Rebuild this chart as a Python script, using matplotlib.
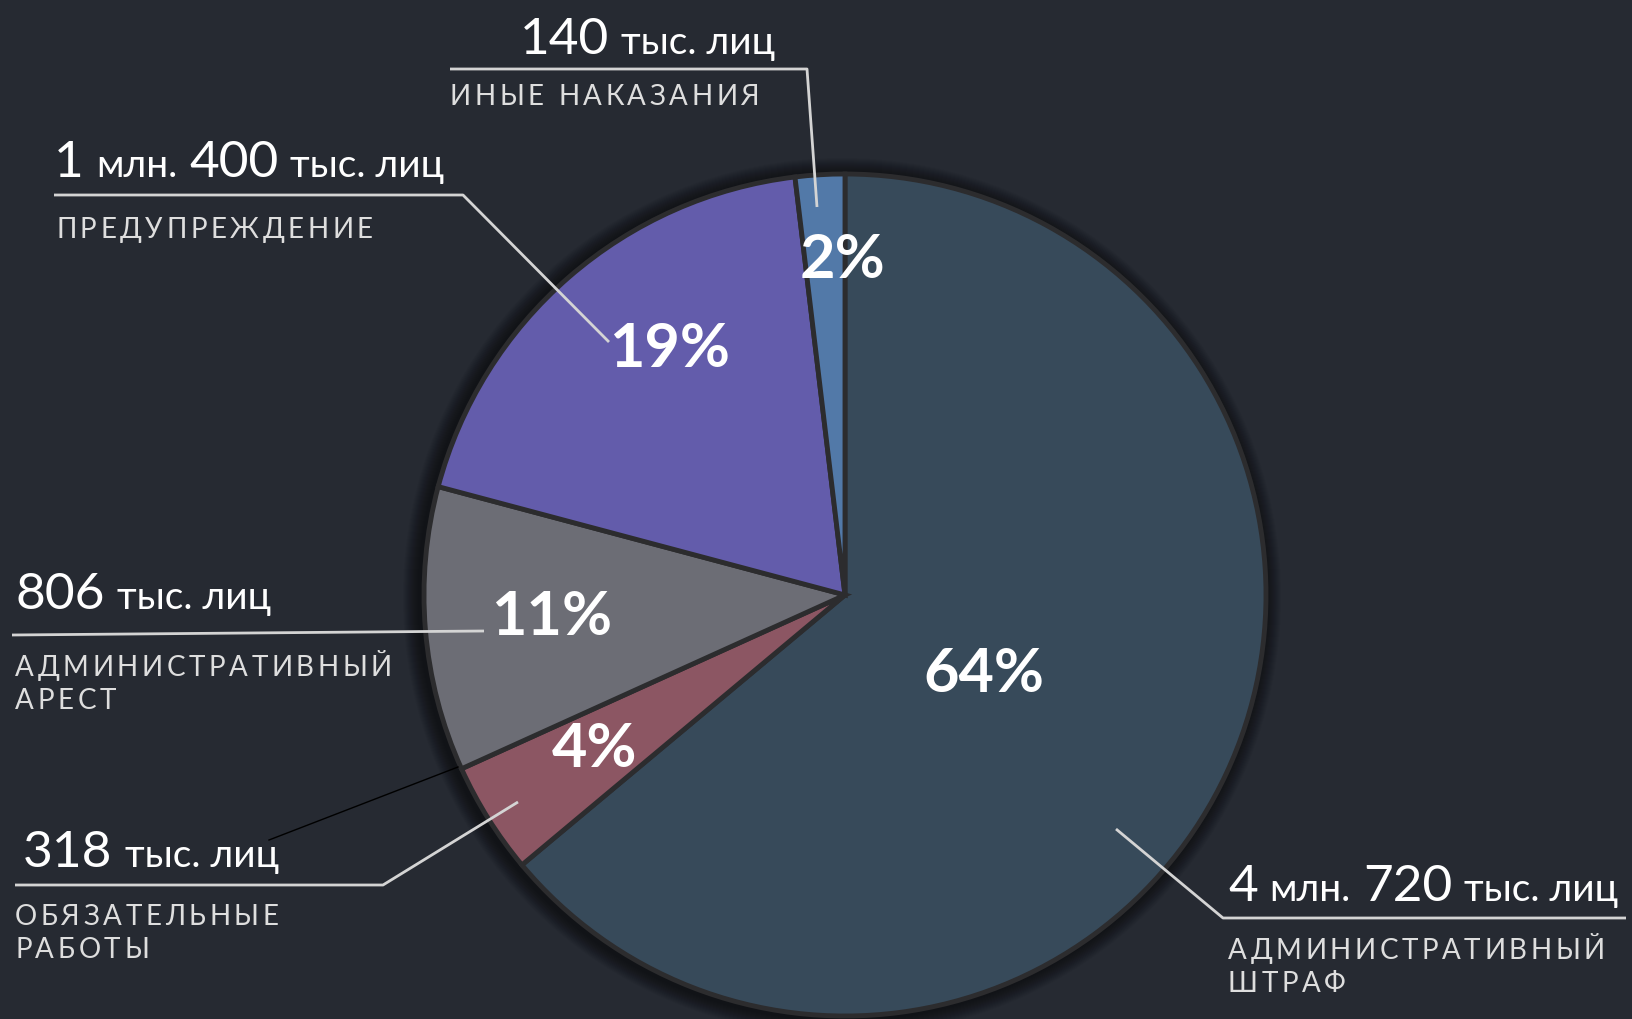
import matplotlib
matplotlib.use("Agg")
import matplotlib.pyplot as plt
from matplotlib.patches import Circle

W, H = 1632, 1020
plt.rcParams['font.family'] = ['Lato', 'Noto Sans', 'DejaVu Sans']

# data (thousands of persons)
categories = ["АДМИНИСТРАТИВНЫЙ\nШТРАФ", "ОБЯЗАТЕЛЬНЫЕ\nРАБОТЫ", "АДМИНИСТРАТИВНЫЙ\nАРЕСТ",
              "ПРЕДУПРЕЖДЕНИЕ", "ИНЫЕ НАКАЗАНИЯ"]
values = [4720, 318, 806, 1400, 140]
colors = ["#374a5a", "#8c5663", "#6c6d75", "#635cab", "#5279a8"]

BG = "#262a32"
LINE = "#d4d4d4"

fig = plt.figure(figsize=(W / 100, H / 100), dpi=100, facecolor=BG)
ax = fig.add_axes([0, 0, 1, 1])
ax.set_facecolor(BG)

cx, cy, R = 845, H - 596, 421

# soft shadow around the pie
for k in range(16):
    ax.add_patch(Circle((cx - 3, cy - 2), R + 18 - k, color="black", alpha=0.035, lw=0, zorder=0))

ax.pie(values, colors=colors, startangle=90, counterclock=False, radius=R, center=(cx, cy),
       wedgeprops=dict(edgecolor="#2c2c2e", linewidth=3.5), frame=False)
ax.set_xlim(0, W)
ax.set_ylim(0, H)
ax.set_aspect("equal")
ax.axis("off")

renderer = fig.canvas.get_renderer()
total = sum(values)

# percent labels (positions from top-left, pixels)
pct_pos = [(984, 674), (595, 749), (552, 617), (670, 349), (843, 260)]
for v, (px, py) in zip(values, pct_pos):
    ax.text(px, H - py, f"{round(v / total * 100)}%", color="white", fontsize=44,
            fontweight="bold", ha="center", va="center", zorder=5)


def text_width(t):
    return t.get_window_extent(renderer).width


def draw_run(x, y, s, size, color, track=0):
    if track == 0:
        t = ax.text(x, y, s, fontsize=size, color=color, va="baseline", zorder=6)
        return x + text_width(t)
    for ch in s:
        if ch == " ":
            x += size * 0.35 + track
            continue
        t = ax.text(x, y, ch, fontsize=size, color=color, va="baseline", zorder=6)
        x += text_width(t) + track
    return x


def amount_pieces(v):
    big, small = 37, 28
    parts = []
    if v >= 1000:
        parts += [(str(v // 1000), big), ("млн.", small)]
        v = v % 1000
    parts += [(str(v), big), ("тыс. лиц", small)]
    return parts


# label layout: (amount x, amount baseline, category x, category top) in pixels from top
label_pos = [(1228, 901, 1228, 937), (23, 867, 15, 903), (15, 609, 15, 654),
             (54, 177, 56, 216), (520, 54, 450, 83)]
for v, cat, (ax_x, by, cat_x, ty) in zip(values, categories, label_pos):
    x = ax_x
    for s, size in amount_pieces(v):
        x = draw_run(x, H - by, s, size, "white") + 12
    for i, line in enumerate(cat.split("\n")):
        draw_run(cat_x, H - ty - 22 - i * 33, line, 20, "#dedede", track=3.6)

# leader lines (pixel paths from top-left)
leaders = [
    [(1116, 830), (1223, 919), (1626, 919)],
    [(15, 886), (383, 886), (518, 803)],
    [(12, 636), (484, 632)],
    [(54, 196), (463, 196), (609, 343)],
    [(450, 70), (807, 70), (817, 208)],
]
for path in leaders:
    ax.plot([p[0] for p in path], [H - p[1] for p in path], color=LINE, lw=2, zorder=4,
            solid_capstyle="butt")
ax.plot([269, 458], [H - 841, H - 768], color="black", lw=1, zorder=4)

fig.savefig("out.png", dpi=100, facecolor=BG)
